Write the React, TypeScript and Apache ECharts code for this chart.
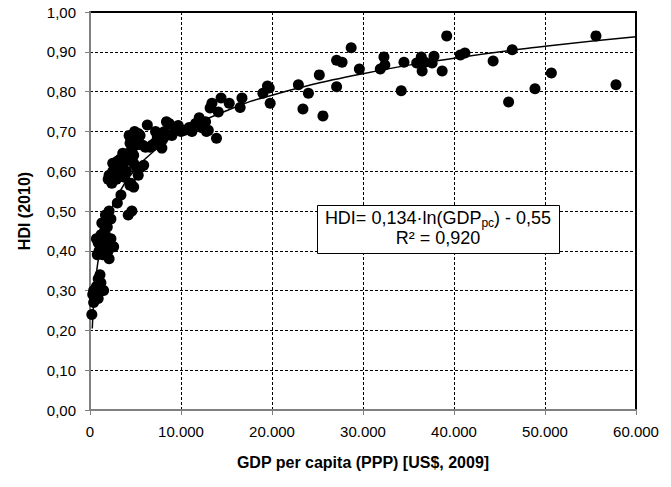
import React, { useEffect, useRef } from "react";
import * as echarts from "echarts";

// GDP per capita (PPP, US$ 2009) vs HDI 2010
const gdp: number[] = [
  200, 400, 500, 300, 600, 800, 1000, 1100, 700, 900, 1100, 1300, 1500, 400, 1200, 900,
  800, 1000, 1300, 1600, 2000, 2100, 700, 1100, 1500, 1800, 2200, 1200, 1700, 2300, 900, 1400,
  1300, 1900, 1700, 2100, 2300, 4200, 4600, 1600, 2600,
  3000, 3400, 2000, 2400, 2100, 2500, 3400, 3800, 4400, 4800, 4500, 5300, 4000, 3200, 2900,
  2700, 2500, 3300, 3000, 3600, 4200, 4600, 4800, 5600, 5900, 5800, 4400, 4500, 4900, 5300, 5000, 5500, 4800,
  3700, 4100, 5100, 5200, 4300,
  6300, 6600, 7100, 7400, 7900, 7900, 8400, 8700, 9300, 8200, 7600, 8000, 9000, 10000, 10400, 11200,
  6100, 6800, 7200, 9700, 10900,
  12000, 12700, 11600, 12300, 13000, 12800, 13200, 13400, 14400, 14100, 13900, 15300,
  16500, 16700, 19000, 19500, 19700, 19800,
  22900, 24000, 23400, 25200, 25600, 27100, 27100, 27700, 28700, 29600, 31900, 32300, 32400,
  34200, 34500, 35900, 36400, 36500, 36800, 37600, 37800, 38700, 39200, 40700, 41200,
  44300, 46000, 46400, 48900, 50700, 55600, 57800,
];
const hdi: number[] = [
  0.24, 0.27, 0.28, 0.29, 0.30, 0.29, 0.30, 0.31, 0.31, 0.33, 0.34, 0.30, 0.30, 0.30, 0.32, 0.28,
  0.39, 0.40, 0.41, 0.40, 0.40, 0.38, 0.43, 0.43, 0.43, 0.42, 0.41, 0.44, 0.44, 0.43, 0.42, 0.39,
  0.47, 0.46, 0.49, 0.50, 0.48, 0.49, 0.50, 0.45, 0.41,
  0.52, 0.54, 0.58, 0.57, 0.59, 0.60, 0.595, 0.585, 0.565, 0.56, 0.57, 0.59, 0.60, 0.60, 0.58,
  0.615, 0.62, 0.63, 0.625, 0.645, 0.645, 0.65, 0.62, 0.61, 0.615, 0.665, 0.67, 0.68, 0.70, 0.695, 0.665, 0.69, 0.64,
  0.62, 0.63, 0.61, 0.675, 0.69,
  0.716, 0.66, 0.67, 0.686, 0.696, 0.658, 0.724, 0.72, 0.71, 0.70, 0.685, 0.68, 0.69, 0.70, 0.703, 0.70,
  0.66, 0.665, 0.70, 0.715, 0.71,
  0.734, 0.724, 0.72, 0.709, 0.703, 0.70, 0.759, 0.771, 0.784, 0.749, 0.683, 0.771,
  0.76, 0.784, 0.796, 0.814, 0.809, 0.771,
  0.817, 0.796, 0.756, 0.842, 0.739, 0.812, 0.879, 0.874, 0.91, 0.857, 0.857, 0.887, 0.867,
  0.802, 0.874, 0.872, 0.887, 0.852, 0.874, 0.872, 0.889, 0.852, 0.94, 0.892, 0.897,
  0.877, 0.774, 0.905, 0.807, 0.847, 0.94, 0.817,
];

// Logarithmic trend line
const trendGdp: number[] = [250, 400, 700, 1000, 1500, 2000, 3000, 5000, 7500, 10000, 15000, 20000, 30000, 40000, 50000, 60000];
const trendHdi: number[] = [0.205, 0.267, 0.342, 0.39, 0.444, 0.482, 0.537, 0.605, 0.659, 0.698, 0.752, 0.791, 0.845, 0.884, 0.914, 0.938];

const xTicks = { min: 0, max: 60000, interval: 10000 };
const yTicks = { min: 0, max: 1, interval: 0.1 };

const FONT = "'Liberation Sans', Arial, sans-serif";

export default function App() {
  const ref = useRef<HTMLDivElement>(null);
  useEffect(() => {
    if (!ref.current) return;
    const chart = echarts.init(ref.current, null, { renderer: "svg" });
    const points = gdp.map((g, i) => [g, hdi[i]]);
    const trend = trendGdp.map((g, i) => [g, trendHdi[i]]);
    chart.setOption({
      animation: false,
      backgroundColor: "#fff",
      grid: {
        left: 90,
        top: 12,
        width: 546,
        height: 398,
        show: true,
        borderColor: "#000",
        borderWidth: 2,
        backgroundColor: "transparent",
      },
      xAxis: {
        type: "value",
        min: xTicks.min,
        max: xTicks.max,
        interval: xTicks.interval,
        name: "GDP per capita (PPP) [US$, 2009]",
        nameLocation: "middle",
        nameGap: 44,
        nameTextStyle: { fontFamily: FONT, fontSize: 16, fontWeight: "bold", color: "#000" },
        axisLine: { show: true, onZero: false, lineStyle: { color: "#808080", width: 2 } },
        axisTick: { show: true, length: 5, lineStyle: { color: "#808080", width: 1 } },
        axisLabel: {
          fontFamily: FONT,
          fontSize: 15,
          color: "#000",
          margin: 14,
          formatter: (v: number) => (v === 0 ? "0" : `${Math.round(v / 1000)}.000`),
        },
        splitLine: { show: true, lineStyle: { color: "#000", width: 1, type: [3, 2] } },
      },
      yAxis: {
        type: "value",
        min: yTicks.min,
        max: yTicks.max,
        interval: yTicks.interval,
        name: "HDI (2010)",
        nameLocation: "middle",
        nameGap: 58,
        nameRotate: 90,
        nameTextStyle: { fontFamily: FONT, fontSize: 16, fontWeight: "bold", color: "#000" },
        axisLine: { show: true, onZero: false, lineStyle: { color: "#808080", width: 2 } },
        axisTick: { show: true, length: 5, lineStyle: { color: "#808080", width: 1 } },
        axisLabel: {
          fontFamily: FONT,
          fontSize: 15,
          color: "#000",
          margin: 14,
          formatter: (v: number) => v.toFixed(2).replace(".", ","),
        },
        splitLine: { show: true, lineStyle: { color: "#000", width: 1, type: [3, 2] } },
      },
      series: [
        {
          type: "scatter",
          data: points,
          symbol: "circle",
          symbolSize: 11,
          itemStyle: { color: "#000", opacity: 1 },
          z: 3,
        },
        {
          type: "line",
          data: trend,
          smooth: true,
          showSymbol: false,
          lineStyle: { color: "#000", width: 1.5 },
          z: 4,
        },
      ],
      graphic: [
        {
          type: "rect",
          left: 317,
          top: 205,
          shape: { width: 242, height: 48 },
          style: { fill: "#fff", stroke: "#000", lineWidth: 1 },
          z: 10,
        },
        {
          type: "text",
          x: 438,
          y: 218,
          style: {
            text: "{a|HDI= 0,134·ln(GDP}{s|pc}{a|) - 0,55}",
            align: "center",
            verticalAlign: "middle",
            fill: "#000",
            rich: {
              a: { fontFamily: FONT, fontSize: 18, lineHeight: 22, fill: "#000" },
              s: { fontFamily: FONT, fontSize: 12, lineHeight: 22, verticalAlign: "bottom", fill: "#000" },
            },
          },
          z: 11,
        },
        {
          type: "text",
          x: 438,
          y: 238,
          style: {
            text: "R² = 0,920",
            align: "center",
            verticalAlign: "middle",
            fontFamily: FONT,
            fontSize: 18,
            fill: "#000",
          },
          z: 11,
        },
      ],
    });
    return () => chart.dispose();
  }, []);
  return (
    <div
      ref={ref}
      style={{ position: "absolute", left: 0, top: 0, width: 671, height: 487 }}
    />
  );
}
